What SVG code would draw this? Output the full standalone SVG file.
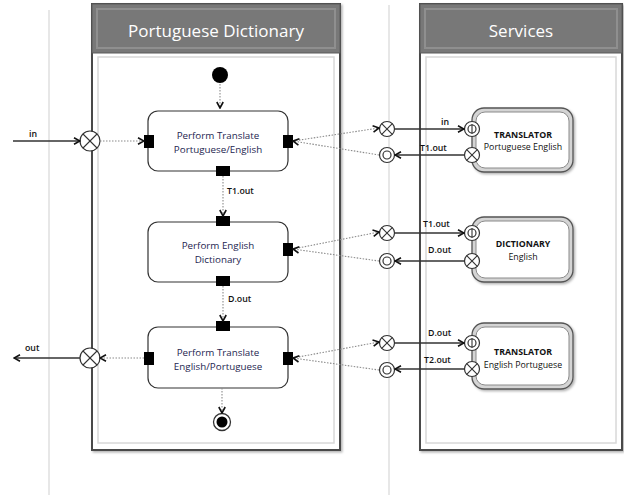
<svg xmlns="http://www.w3.org/2000/svg" width="624" height="495" viewBox="0 0 624 495">
<style>
.lane{fill:#fff;stroke:#4a4a4a;stroke-width:2}
.hdr{fill:#787878;stroke:#5a5a5a;stroke-width:1}
.bevel{fill:none;stroke:#8f8f8f;stroke-width:2}
.inner{fill:none;stroke:#d8d8d8;stroke-width:1.5}
.title{font-family:"Open Sans","Liberation Sans",sans-serif;font-size:17px;fill:#fff;text-anchor:middle}
.guide{stroke:#cfcfcf;stroke-width:1}
.act{fill:#fff;stroke:#333;stroke-width:1.2}
.pin{fill:#000}
.ntext{font-family:"Open Sans","Liberation Sans",sans-serif;font-size:9.8px;fill:#1d2550;text-anchor:middle}
.stext{font-family:"Open Sans","Liberation Sans",sans-serif;font-size:8.8px;fill:#111;text-anchor:middle}
.lbl{font-family:"Open Sans","Liberation Sans",sans-serif;font-size:8.8px;font-weight:600;fill:#111}
.dot{fill:none;stroke:#8a8a8a;stroke-width:1.1;stroke-dasharray:1.5 1.5}
.solid{fill:none;stroke:#333;stroke-width:1.3}
.circ{fill:#fff;stroke:#333;stroke-width:1.2}
.xl{stroke:#333;stroke-width:1.1}
.svcO{fill:#d4d4d4;stroke:#555;stroke-width:1.3}
.svcI{fill:#fff;stroke:#8a8a8a;stroke-width:1}
</style>
<defs>
<marker id="ah" viewBox="0 0 8 8" refX="7" refY="4" markerWidth="8" markerHeight="8" markerUnits="userSpaceOnUse" orient="auto">
<path d="M1,0.8 L7,4 L1,7.2" fill="none" stroke="#111" stroke-width="1.6"/>
</marker>
<filter id="sh" x="-10%" y="-10%" width="130%" height="130%">
<feDropShadow dx="1.5" dy="1.5" stdDeviation="1" flood-color="#000" flood-opacity="0.3"/>
</filter>
</defs>

<!-- guide lines -->
<line class="guide" x1="49" y1="10" x2="49" y2="495"/>
<line class="guide" x1="389" y1="5" x2="389" y2="495"/>

<!-- lanes -->
<g id="lane-portuguese">
<rect class="lane" x="92" y="4" width="248" height="446" filter="url(#sh)"/>
<rect class="hdr" x="92" y="4" width="248" height="49"/>
<rect class="bevel" x="97" y="9" width="238" height="39"/>
<rect class="inner" x="98" y="57" width="236" height="386"/>
<text class="title" x="216" y="37">Portuguese Dictionary</text>
</g>
<g id="lane-services">
<rect class="lane" x="420" y="4" width="202" height="446" filter="url(#sh)"/>
<rect class="hdr" x="420" y="4" width="202" height="49"/>
<rect class="bevel" x="425" y="9" width="192" height="39"/>
<rect class="inner" x="426" y="57" width="190" height="386"/>
<text class="title" x="521" y="37">Services</text>
</g>

<!-- initial / final -->
<g id="initial"><circle cx="220" cy="75" r="8" fill="#000"/></g>
<g id="final"><circle cx="222" cy="422" r="8.5" fill="#fff" stroke="#333" stroke-width="1.3"/><circle cx="222" cy="422" r="5.5" fill="#000"/></g>

<!-- activities -->
<g id="act-translate-pe">
<rect class="act" x="148" y="111" width="140" height="60" rx="10"/>
<text class="ntext" x="218" y="139">Perform Translate</text>
<text class="ntext" x="218" y="153">Portuguese/English</text>
<rect class="pin" x="144" y="135" width="10" height="13"/>
<rect class="pin" x="283" y="135" width="10" height="13"/>
<rect class="pin" x="216" y="166" width="14" height="10"/>
</g>
<g id="act-dictionary">
<rect class="act" x="148" y="222" width="140" height="60" rx="10"/>
<text class="ntext" x="218" y="249">Perform English</text>
<text class="ntext" x="218" y="263">Dictionary</text>
<rect class="pin" x="216" y="216" width="14" height="10"/>
<rect class="pin" x="283" y="243" width="10" height="13"/>
<rect class="pin" x="216" y="276" width="14" height="10"/>
</g>
<g id="act-translate-ep">
<rect class="act" x="148" y="327" width="140" height="61" rx="10"/>
<text class="ntext" x="218" y="356">Perform Translate</text>
<text class="ntext" x="218" y="370">English/Portuguese</text>
<rect class="pin" x="216" y="321" width="14" height="10"/>
<rect class="pin" x="144" y="352" width="10" height="13"/>
<rect class="pin" x="283" y="352" width="10" height="13"/>
</g>

<!-- services -->
<g id="svc-translator-pe">
<rect class="svcO" x="472" y="108" width="101" height="64" rx="12" filter="url(#sh)"/>
<rect class="svcI" x="476" y="112" width="93" height="56" rx="9"/>
<text class="stext" x="523" y="138" font-weight="bold">TRANSLATOR</text>
<text class="stext" x="523" y="150">Portuguese English</text>
</g>
<g id="svc-dictionary">
<rect class="svcO" x="472" y="217" width="101" height="65" rx="12" filter="url(#sh)"/>
<rect class="svcI" x="476" y="221" width="93" height="57" rx="9"/>
<text class="stext" x="523" y="247" font-weight="bold">DICTIONARY</text>
<text class="stext" x="523" y="260">English</text>
</g>
<g id="svc-translator-ep">
<rect class="svcO" x="472" y="323" width="101" height="66" rx="12" filter="url(#sh)"/>
<rect class="svcI" x="476" y="327" width="93" height="58" rx="9"/>
<text class="stext" x="523" y="355" font-weight="bold">TRANSLATOR</text>
<text class="stext" x="523" y="368">English Portuguese</text>
</g>

<!-- ports: X = send, O = receive -->
<g id="ports">
<g id="p-in"><circle class="circ" cx="90" cy="141" r="10"/><line class="xl" x1="83" y1="134" x2="97" y2="148"/><line class="xl" x1="97" y1="134" x2="83" y2="148"/></g>
<g id="p-out"><circle class="circ" cx="90" cy="358" r="10"/><line class="xl" x1="83" y1="351" x2="97" y2="365"/><line class="xl" x1="97" y1="351" x2="83" y2="365"/></g>

<g id="p1x"><circle class="circ" cx="387" cy="129" r="7.5"/><line class="xl" x1="381.7" y1="123.7" x2="392.3" y2="134.3"/><line class="xl" x1="392.3" y1="123.7" x2="381.7" y2="134.3"/></g>
<g id="p1o"><circle class="circ" cx="387" cy="155" r="7.5"/><circle class="circ" cx="387" cy="155" r="4"/></g>
<g id="p1s"><circle class="circ" cx="472" cy="129" r="7.5"/><circle class="circ" cx="472" cy="129" r="4"/><line class="xl" x1="472" y1="124" x2="472" y2="134"/></g>
<g id="p1t"><circle class="circ" cx="472" cy="155" r="7.5"/><line class="xl" x1="466.7" y1="149.7" x2="477.3" y2="160.3"/><line class="xl" x1="477.3" y1="149.7" x2="466.7" y2="160.3"/></g>

<g id="p2x"><circle class="circ" cx="387" cy="233" r="7.5"/><line class="xl" x1="381.7" y1="227.7" x2="392.3" y2="238.3"/><line class="xl" x1="392.3" y1="227.7" x2="381.7" y2="238.3"/></g>
<g id="p2o"><circle class="circ" cx="387" cy="261" r="7.5"/><circle class="circ" cx="387" cy="261" r="4"/></g>
<g id="p2s"><circle class="circ" cx="472" cy="233" r="7.5"/><circle class="circ" cx="472" cy="233" r="4"/><line class="xl" x1="472" y1="228" x2="472" y2="238"/></g>
<g id="p2t"><circle class="circ" cx="472" cy="261" r="7.5"/><line class="xl" x1="466.7" y1="255.7" x2="477.3" y2="266.3"/><line class="xl" x1="477.3" y1="255.7" x2="466.7" y2="266.3"/></g>

<g id="p3x"><circle class="circ" cx="387" cy="343" r="7.5"/><line class="xl" x1="381.7" y1="337.7" x2="392.3" y2="348.3"/><line class="xl" x1="392.3" y1="337.7" x2="381.7" y2="348.3"/></g>
<g id="p3o"><circle class="circ" cx="387" cy="370" r="7.5"/><circle class="circ" cx="387" cy="370" r="4"/></g>
<g id="p3s"><circle class="circ" cx="472" cy="343" r="7.5"/><circle class="circ" cx="472" cy="343" r="4"/><line class="xl" x1="472" y1="338" x2="472" y2="348"/></g>
<g id="p3t"><circle class="circ" cx="472" cy="369" r="7.5"/><line class="xl" x1="466.7" y1="363.7" x2="477.3" y2="374.3"/><line class="xl" x1="477.3" y1="363.7" x2="466.7" y2="374.3"/></g>
</g>

<!-- connectors -->
<g id="connectors">
<line class="dot" x1="220" y1="84" x2="220" y2="108" marker-end="url(#ah)"/>
<line class="dot" x1="223" y1="176" x2="223" y2="216" marker-end="url(#ah)"/>
<line class="dot" x1="223" y1="286" x2="223" y2="321" marker-end="url(#ah)"/>
<line class="dot" x1="222" y1="388" x2="222" y2="413" marker-end="url(#ah)"/>

<line class="solid" x1="13" y1="141" x2="80" y2="141" marker-end="url(#ah)"/>
<line class="dot" x1="100" y1="141" x2="144" y2="141" marker-end="url(#ah)"/>
<line class="dot" x1="144" y1="358" x2="100" y2="358" marker-end="url(#ah)"/>
<line class="solid" x1="80" y1="358" x2="14" y2="358" marker-end="url(#ah)"/>

<line class="dot" x1="293" y1="141" x2="379" y2="128" marker-end="url(#ah)"/>
<line class="dot" x1="379" y1="155" x2="293" y2="141" marker-end="url(#ah)"/>
<line class="solid" x1="395" y1="129" x2="464" y2="129" marker-end="url(#ah)"/>
<line class="solid" x1="464" y1="155" x2="395" y2="155" marker-end="url(#ah)"/>

<line class="dot" x1="293" y1="249" x2="379" y2="232" marker-end="url(#ah)"/>
<line class="dot" x1="379" y1="261" x2="293" y2="249" marker-end="url(#ah)"/>
<line class="solid" x1="395" y1="233" x2="464" y2="233" marker-end="url(#ah)"/>
<line class="solid" x1="464" y1="261" x2="395" y2="261" marker-end="url(#ah)"/>

<line class="dot" x1="293" y1="358" x2="379" y2="342" marker-end="url(#ah)"/>
<line class="dot" x1="379" y1="370" x2="293" y2="358" marker-end="url(#ah)"/>
<line class="solid" x1="395" y1="343" x2="464" y2="343" marker-end="url(#ah)"/>
<line class="solid" x1="464" y1="369" x2="395" y2="369" marker-end="url(#ah)"/>
</g>

<!-- labels -->
<g id="labels">
<text class="lbl" x="29" y="137" font-weight="bold">in</text>
<text class="lbl" x="25" y="351" font-weight="bold">out</text>
<text class="lbl" x="227" y="194">T1.out</text>
<text class="lbl" x="228" y="302">D.out</text>
<text class="lbl" x="441" y="125">in</text>
<text class="lbl" x="420" y="151">T1.out</text>
<text class="lbl" x="423" y="227">T1.out</text>
<text class="lbl" x="428" y="253">D.out</text>
<text class="lbl" x="428" y="336">D.out</text>
<text class="lbl" x="424" y="363">T2.out</text>
</g>
</svg>
